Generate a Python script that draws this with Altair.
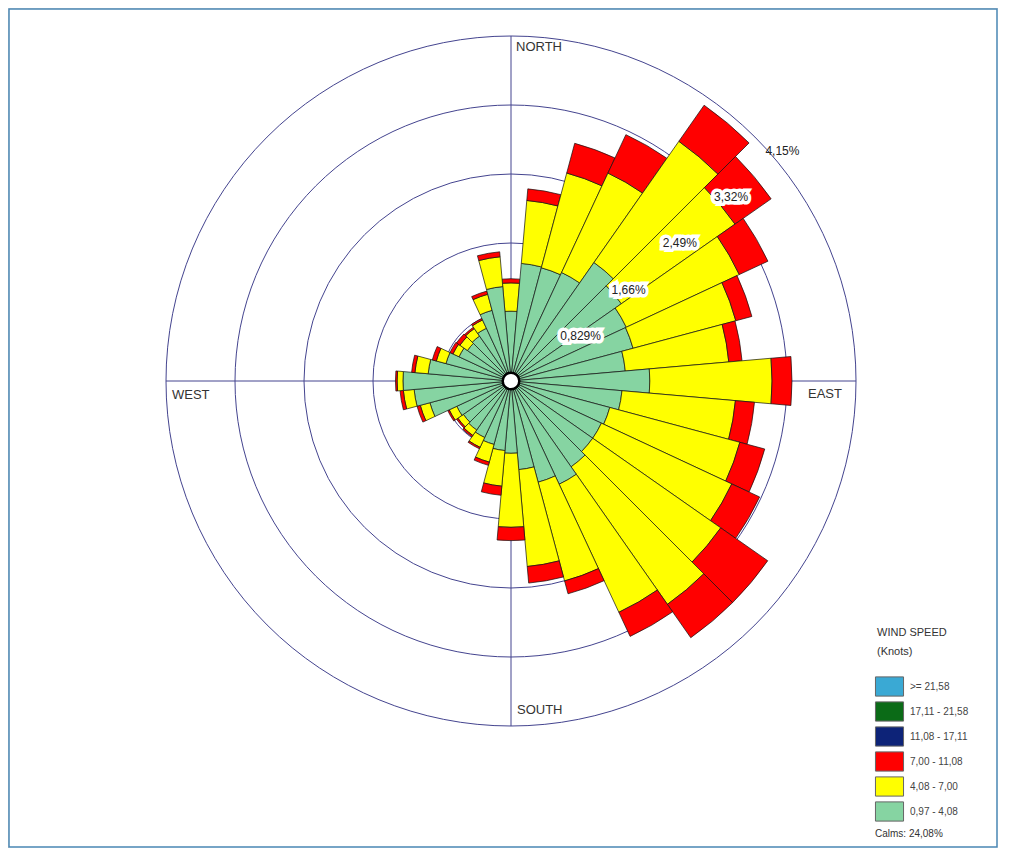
import altair as alt
import pandas as pd

# ---------------- data ----------------
DIRECTIONS = list(range(0, 360, 10))  # sector centres, degrees from north

# frequency (%) per direction for each speed class
SPD_097_408 = [0.84, 1.42, 1.41, 1.44, 1.74, 1.62, 1.53, 1.52, 1.38, 1.67,
               1.34, 1.23, 1.20, 1.20, 1.26, 1.37, 1.26, 1.07, 0.87, 0.84,
               0.79, 0.75, 0.72, 0.70, 0.72, 1.01, 1.17, 1.30, 1.00, 0.81,
               0.69, 0.64, 0.66, 0.70, 0.88, 1.14]
SPD_408_700 = [0.34, 0.76, 1.18, 1.32, 1.78, 1.67, 1.50, 1.28, 1.25, 1.47,
               1.37, 1.62, 1.73, 1.88, 2.02, 1.70, 1.23, 1.17, 0.89, 0.43,
               0.22, 0.13, 0.08, 0.08, 0.10, 0.12, 0.13, 0.07, 0.16, 0.12,
               0.08, 0.11, 0.11, 0.11, 0.20, 0.36]
SPD_700_1108 = [0.05, 0.14, 0.37, 0.51, 0.53, 0.53, 0.38, 0.20, 0.16, 0.24,
                0.23, 0.31, 0.37, 0.69, 0.49, 0.32, 0.16, 0.20, 0.16, 0.11,
                0.04, 0.02, 0.02, 0.02, 0.02, 0.04, 0.04, 0.02, 0.04, 0.05,
                0.04, 0.05, 0.02, 0.02, 0.04, 0.06]

CLASSES = [">= 21,58", "17,11 - 21,58", "11,08 - 17,11",
           "7,00 - 11,08", "4,08 - 7,00", "0,97 - 4,08"]
CLASS_COLORS = ["#3aa9d4", "#0b6b17", "#0d2378", "#ff0000", "#ffff00", "#86d4a2"]

RING_VALUES = [0.829, 1.66, 2.49, 3.32, 4.15]
RING_LABELS = ["0,829%", "1,66%", "2,49%", "3,32%", "4,15%"]
COMPASS = ["NORTH", "EAST", "SOUTH", "WEST"]
CALMS_TEXT = "Calms: 24,08%"
CALM_HOLE = 0.1

# ---------------- layout ----------------
W, H = 990, 840
CX, CY = 503, 373          # centre of the rose inside the chart
R_MAX = 345                 # pixel radius of the outermost ring
FONT = "Liberation Sans"
RING_COLOR = "#44448f"
LABEL_ANGLE = 48

theta_scale = alt.Scale(domain=[0, 360], range=[0, 6.283185307179586])
r_scale = alt.Scale(type="linear", domain=[0, RING_VALUES[-1]], range=[0, R_MAX], zero=True)

rows = []
for i, d in enumerate(DIRECTIONS):
    cum = 0.0
    for cls, vals in [(CLASSES[5], SPD_097_408), (CLASSES[4], SPD_408_700), (CLASSES[3], SPD_700_1108)]:
        v = vals[i]
        rows.append({"dir": d, "t0": d - 5, "t1": d + 5, "r0": cum, "r1": cum + v, "cls": cls})
        cum += v
bars_df = pd.DataFrame(rows)

rings_df = pd.DataFrame({"r": RING_VALUES, "label": RING_LABELS, "t0": 0, "t1": 360,
                         "ang": LABEL_ANGLE})

one = pd.DataFrame({"a": [0]})

# axes cross
vline = alt.Chart(one).mark_rule(color=RING_COLOR, strokeWidth=1).encode(
    x=alt.value(CX), y=alt.value(CY - R_MAX), y2=alt.value(CY + R_MAX))
hline = alt.Chart(one).mark_rule(color=RING_COLOR, strokeWidth=1).encode(
    y=alt.value(CY), x=alt.value(CX - R_MAX), x2=alt.value(CX + R_MAX))

rings = alt.Chart(rings_df).mark_arc(fill="transparent", stroke=RING_COLOR, strokeWidth=1).encode(
    theta=alt.Theta("t0:Q", scale=theta_scale), theta2="t1:Q",
    radius=alt.Radius("r:Q", scale=r_scale),
    x=alt.value(CX), y=alt.value(CY))

bars = alt.Chart(bars_df).mark_arc(stroke="#111111", strokeWidth=0.7).encode(
    theta=alt.Theta("t0:Q", scale=theta_scale), theta2="t1:Q",
    radius=alt.Radius("r1:Q", scale=r_scale), radius2="r0:Q",
    color=alt.Color("cls:N", scale=alt.Scale(domain=CLASSES, range=CLASS_COLORS),
                    legend=alt.Legend(
                        title=["WIND SPEED", "(Knots)"], orient="none",
                        legendX=869, legendY=619,
                        titleFont=FONT, titleFontSize=11, titleFontWeight="normal",
                        titleColor="#333333", titlePadding=17, titleLineHeight=19,
                        labelFont=FONT, labelFontSize=10, labelColor="#444444",
                        labelOffset=8,
                        symbolType="M-1.17,-0.8H1.17V0.8H-1.17Z", symbolSize=576,
                        symbolStrokeColor="#666666", symbolStrokeWidth=1,
                        symbolOpacity=1, rowPadding=0)),
    x=alt.value(CX), y=alt.value(CY))

hole = alt.Chart(pd.DataFrame({"r": [CALM_HOLE], "t0": [0], "t1": [360]})).mark_arc(
    fill="white", stroke="#000000", strokeWidth=2.5).encode(
    theta=alt.Theta("t0:Q", scale=theta_scale), theta2="t1:Q",
    radius=alt.Radius("r:Q", scale=r_scale),
    x=alt.value(CX), y=alt.value(CY))

lab_halo = alt.Chart(rings_df.iloc[:4]).mark_text(
    align="left", baseline="middle", dx=-2, dy=1, font=FONT, fontSize=12,
    stroke="white", strokeWidth=7, fill="white").encode(
    theta=alt.Theta("ang:Q", scale=theta_scale),
    radius=alt.Radius("r:Q", scale=r_scale), text="label:N",
    x=alt.value(CX), y=alt.value(CY))
lab = alt.Chart(rings_df).mark_text(
    align="left", baseline="middle", dx=-2, dy=1, font=FONT, fontSize=12, color="#222222").encode(
    theta=alt.Theta("ang:Q", scale=theta_scale),
    radius=alt.Radius("r:Q", scale=r_scale), text="label:N",
    x=alt.value(CX), y=alt.value(CY))

def txt(s, x, y, align="left", size=13):
    return alt.Chart(one).mark_text(text=s, align=align, baseline="middle",
                                   font=FONT, fontSize=size, color="#333333").encode(
        x=alt.value(x), y=alt.value(y))

north = txt(COMPASS[0], CX + 5, 39)
east = txt(COMPASS[1], 800, 386)
south = txt(COMPASS[2], CX + 6, 702)
west = txt(COMPASS[3], 164, 387)
calms = txt(CALMS_TEXT, 867, 826, size=10)

frame = alt.Chart(one).mark_rect(fill="transparent", stroke="#4a86b4", strokeWidth=1.5).encode(
    x=alt.value(1), x2=alt.value(W - 1), y=alt.value(1), y2=alt.value(H - 1))

chart = alt.layer(vline, hline, rings, bars, hole, lab_halo, lab,
                  north, east, south, west, calms, frame).properties(
    width=W, height=H, autosize=alt.AutoSizeParams(type="none"), padding=0
).configure_view(strokeWidth=0).configure(font=FONT)

chart.save("out.html", embed_options={"renderer": "svg", "actions": False})
